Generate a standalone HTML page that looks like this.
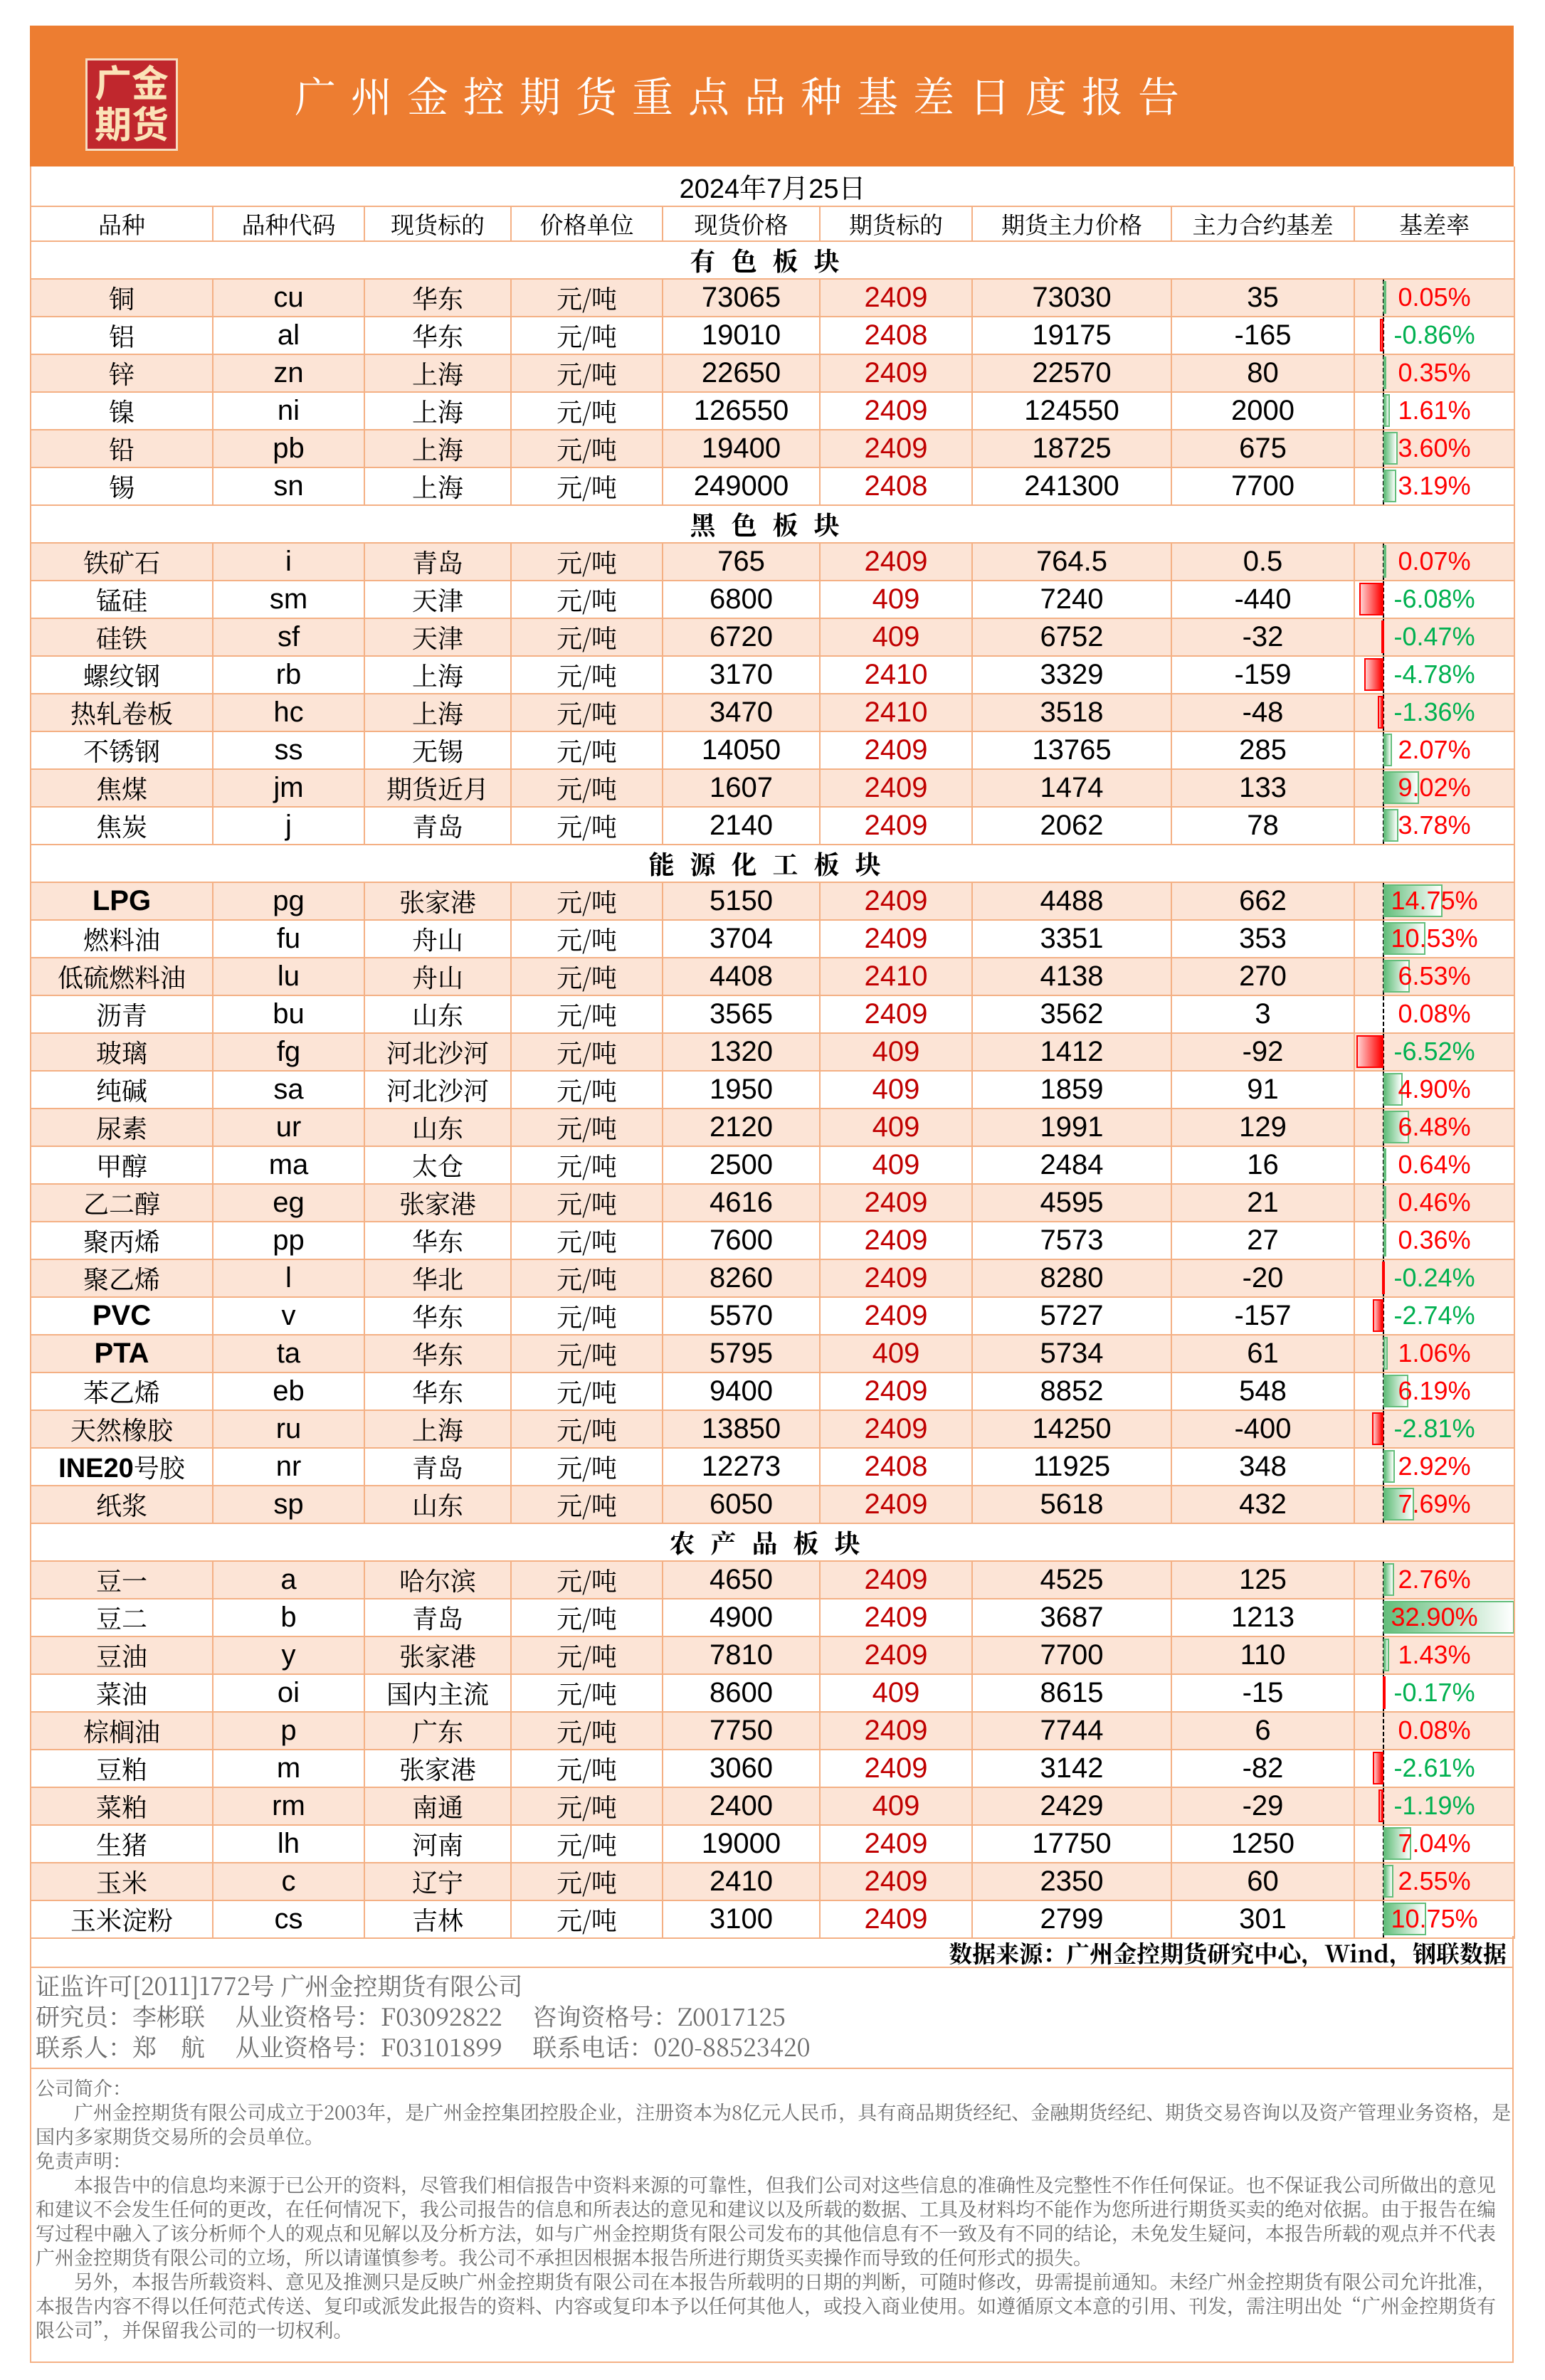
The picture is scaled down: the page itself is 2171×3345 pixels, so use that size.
<!DOCTYPE html>
<html><head><meta charset="utf-8">
<style>
body{margin:0;width:2171px;height:3345px;background:#fff;position:relative;overflow:hidden;font-family:"Liberation Sans","Noto Serif CJK SC",serif;}
#hd{position:absolute;left:42px;top:36px;width:2085px;height:198px;background:#ed7d31;}
#logo{position:absolute;left:78px;top:46px;width:124px;height:124px;background:#c0272d;border:3px solid #f6dcc0;color:#fbe3b8;font:bold 52px/58px "Noto Sans CJK SC",sans-serif;text-align:center;}
#title{position:absolute;left:372px;top:54px;color:#fff;font:58px "Noto Serif CJK SC",serif;letter-spacing:21px;white-space:nowrap;}
table{position:absolute;left:42px;top:234px;border-collapse:collapse;table-layout:fixed;width:2085px;}
td{border:2px solid #f4b084;height:49px;padding:0;text-align:center;font-size:38px;white-space:nowrap;overflow:hidden;}
.c{font-family:"Noto Serif CJK SC",serif;font-size:36px;}
.n{font-family:"Liberation Sans Narrow","Liberation Sans",sans-serif;font-size:40px;}
.r{color:#c00000}
tr.p td{background:#fce4d6}
tr.h td{font-family:"Noto Serif CJK SC",serif;font-size:33px;height:45px}
tr.s td{font-family:"Noto Serif CJK SC",serif;font-size:36px;letter-spacing:22px;font-weight:bold}
td.b{position:relative}
td.b span{position:relative;z-index:2;font-family:"Liberation Sans",sans-serif;font-size:36px}
.ax{position:absolute;left:39px;top:0;bottom:0;border-left:2px dashed #000;z-index:1}
.g{position:absolute;left:40px;top:2px;bottom:3px;background:linear-gradient(to right,#63be7b,#fff);border:2px solid #63be7b;box-sizing:border-box;z-index:1}
.rd{position:absolute;top:2px;bottom:3px;background:linear-gradient(to right,#ffd0d0,#ff0000);border:2px solid #ff0000;box-sizing:border-box;z-index:1}
.pos{color:#ff0000}.neg{color:#00b050}
#foot{position:absolute;left:42px;top:2721px;width:2085px;height:600px;border:2px solid #f4b084;border-top:none;box-sizing:border-box;}
.ln{position:absolute;white-space:nowrap;font-family:"Noto Serif CJK SC",serif;color:#6b6b6b}
</style></head><body>
<div id="hd"><div id="logo">广金<br>期货</div><div id="title">广州金控期货重点品种基差日度报告</div></div>
<table>
<colgroup><col style="width:256px"><col style="width:213px"><col style="width:206px"><col style="width:213px"><col style="width:221px"><col style="width:214px"><col style="width:280px"><col style="width:257px"><col style="width:225px"></colgroup>
<tr><td colspan="9" style="font-size:38px;height:49px;border-top:none">2024年7月25日</td></tr>
<tr class="h"><td>品种</td><td>品种代码</td><td>现货标的</td><td>价格单位</td><td>现货价格</td><td>期货标的</td><td>期货主力价格</td><td>主力合约基差</td><td>基差率</td></tr>
<tr class="s"><td colspan="9">有色板块</td></tr>
<tr class="p"><td class="c">铜</td><td class="n">cu</td><td class="c">华东</td><td class="c">元/吨</td><td class="n">73065</td><td class="n r">2409</td><td class="n">73030</td><td class="n">35</td><td class="b"><i class="ax"></i><i class="g" style="width:1px"></i><span class="pos">0.05%</span></td></tr>
<tr><td class="c">铝</td><td class="n">al</td><td class="c">华东</td><td class="c">元/吨</td><td class="n">19010</td><td class="n r">2408</td><td class="n">19175</td><td class="n">-165</td><td class="b"><i class="ax"></i><i class="rd" style="left:35px;width:5px"></i><span class="neg">-0.86%</span></td></tr>
<tr class="p"><td class="c">锌</td><td class="n">zn</td><td class="c">上海</td><td class="c">元/吨</td><td class="n">22650</td><td class="n r">2409</td><td class="n">22570</td><td class="n">80</td><td class="b"><i class="ax"></i><i class="g" style="width:2px"></i><span class="pos">0.35%</span></td></tr>
<tr><td class="c">镍</td><td class="n">ni</td><td class="c">上海</td><td class="c">元/吨</td><td class="n">126550</td><td class="n r">2409</td><td class="n">124550</td><td class="n">2000</td><td class="b"><i class="ax"></i><i class="g" style="width:9px"></i><span class="pos">1.61%</span></td></tr>
<tr class="p"><td class="c">铅</td><td class="n">pb</td><td class="c">上海</td><td class="c">元/吨</td><td class="n">19400</td><td class="n r">2409</td><td class="n">18725</td><td class="n">675</td><td class="b"><i class="ax"></i><i class="g" style="width:20px"></i><span class="pos">3.60%</span></td></tr>
<tr><td class="c">锡</td><td class="n">sn</td><td class="c">上海</td><td class="c">元/吨</td><td class="n">249000</td><td class="n r">2408</td><td class="n">241300</td><td class="n">7700</td><td class="b"><i class="ax"></i><i class="g" style="width:18px"></i><span class="pos">3.19%</span></td></tr>
<tr class="s"><td colspan="9">黑色板块</td></tr>
<tr class="p"><td class="c">铁矿石</td><td class="n">i</td><td class="c">青岛</td><td class="c">元/吨</td><td class="n">765</td><td class="n r">2409</td><td class="n">764.5</td><td class="n">0.5</td><td class="b"><i class="ax"></i><i class="g" style="width:1px"></i><span class="pos">0.07%</span></td></tr>
<tr><td class="c">锰硅</td><td class="n">sm</td><td class="c">天津</td><td class="c">元/吨</td><td class="n">6800</td><td class="n r">409</td><td class="n">7240</td><td class="n">-440</td><td class="b"><i class="ax"></i><i class="rd" style="left:6px;width:34px"></i><span class="neg">-6.08%</span></td></tr>
<tr class="p"><td class="c">硅铁</td><td class="n">sf</td><td class="c">天津</td><td class="c">元/吨</td><td class="n">6720</td><td class="n r">409</td><td class="n">6752</td><td class="n">-32</td><td class="b"><i class="ax"></i><i class="rd" style="left:37px;width:3px"></i><span class="neg">-0.47%</span></td></tr>
<tr><td class="c">螺纹钢</td><td class="n">rb</td><td class="c">上海</td><td class="c">元/吨</td><td class="n">3170</td><td class="n r">2410</td><td class="n">3329</td><td class="n">-159</td><td class="b"><i class="ax"></i><i class="rd" style="left:13px;width:27px"></i><span class="neg">-4.78%</span></td></tr>
<tr class="p"><td class="c">热轧卷板</td><td class="n">hc</td><td class="c">上海</td><td class="c">元/吨</td><td class="n">3470</td><td class="n r">2410</td><td class="n">3518</td><td class="n">-48</td><td class="b"><i class="ax"></i><i class="rd" style="left:32px;width:8px"></i><span class="neg">-1.36%</span></td></tr>
<tr><td class="c">不锈钢</td><td class="n">ss</td><td class="c">无锡</td><td class="c">元/吨</td><td class="n">14050</td><td class="n r">2409</td><td class="n">13765</td><td class="n">285</td><td class="b"><i class="ax"></i><i class="g" style="width:12px"></i><span class="pos">2.07%</span></td></tr>
<tr class="p"><td class="c">焦煤</td><td class="n">jm</td><td class="c">期货近月</td><td class="c">元/吨</td><td class="n">1607</td><td class="n r">2409</td><td class="n">1474</td><td class="n">133</td><td class="b"><i class="ax"></i><i class="g" style="width:50px"></i><span class="pos">9.02%</span></td></tr>
<tr><td class="c">焦炭</td><td class="n">j</td><td class="c">青岛</td><td class="c">元/吨</td><td class="n">2140</td><td class="n r">2409</td><td class="n">2062</td><td class="n">78</td><td class="b"><i class="ax"></i><i class="g" style="width:21px"></i><span class="pos">3.78%</span></td></tr>
<tr class="s"><td colspan="9">能源化工板块</td></tr>
<tr class="p"><td class="n" style="font-weight:bold">LPG</td><td class="n">pg</td><td class="c">张家港</td><td class="c">元/吨</td><td class="n">5150</td><td class="n r">2409</td><td class="n">4488</td><td class="n">662</td><td class="b"><i class="ax"></i><i class="g" style="width:83px"></i><span class="pos">14.75%</span></td></tr>
<tr><td class="c">燃料油</td><td class="n">fu</td><td class="c">舟山</td><td class="c">元/吨</td><td class="n">3704</td><td class="n r">2409</td><td class="n">3351</td><td class="n">353</td><td class="b"><i class="ax"></i><i class="g" style="width:59px"></i><span class="pos">10.53%</span></td></tr>
<tr class="p"><td class="c">低硫燃料油</td><td class="n">lu</td><td class="c">舟山</td><td class="c">元/吨</td><td class="n">4408</td><td class="n r">2410</td><td class="n">4138</td><td class="n">270</td><td class="b"><i class="ax"></i><i class="g" style="width:37px"></i><span class="pos">6.53%</span></td></tr>
<tr><td class="c">沥青</td><td class="n">bu</td><td class="c">山东</td><td class="c">元/吨</td><td class="n">3565</td><td class="n r">2409</td><td class="n">3562</td><td class="n">3</td><td class="b"><i class="ax"></i><span class="pos">0.08%</span></td></tr>
<tr class="p"><td class="c">玻璃</td><td class="n">fg</td><td class="c">河北沙河</td><td class="c">元/吨</td><td class="n">1320</td><td class="n r">409</td><td class="n">1412</td><td class="n">-92</td><td class="b"><i class="ax"></i><i class="rd" style="left:2px;width:38px"></i><span class="neg">-6.52%</span></td></tr>
<tr><td class="c">纯碱</td><td class="n">sa</td><td class="c">河北沙河</td><td class="c">元/吨</td><td class="n">1950</td><td class="n r">409</td><td class="n">1859</td><td class="n">91</td><td class="b"><i class="ax"></i><i class="g" style="width:27px"></i><span class="pos">4.90%</span></td></tr>
<tr class="p"><td class="c">尿素</td><td class="n">ur</td><td class="c">山东</td><td class="c">元/吨</td><td class="n">2120</td><td class="n r">409</td><td class="n">1991</td><td class="n">129</td><td class="b"><i class="ax"></i><i class="g" style="width:36px"></i><span class="pos">6.48%</span></td></tr>
<tr><td class="c">甲醇</td><td class="n">ma</td><td class="c">太仓</td><td class="c">元/吨</td><td class="n">2500</td><td class="n r">409</td><td class="n">2484</td><td class="n">16</td><td class="b"><i class="ax"></i><i class="g" style="width:4px"></i><span class="pos">0.64%</span></td></tr>
<tr class="p"><td class="c">乙二醇</td><td class="n">eg</td><td class="c">张家港</td><td class="c">元/吨</td><td class="n">4616</td><td class="n r">2409</td><td class="n">4595</td><td class="n">21</td><td class="b"><i class="ax"></i><i class="g" style="width:3px"></i><span class="pos">0.46%</span></td></tr>
<tr><td class="c">聚丙烯</td><td class="n">pp</td><td class="c">华东</td><td class="c">元/吨</td><td class="n">7600</td><td class="n r">2409</td><td class="n">7573</td><td class="n">27</td><td class="b"><i class="ax"></i><i class="g" style="width:2px"></i><span class="pos">0.36%</span></td></tr>
<tr class="p"><td class="c">聚乙烯</td><td class="n">l</td><td class="c">华北</td><td class="c">元/吨</td><td class="n">8260</td><td class="n r">2409</td><td class="n">8280</td><td class="n">-20</td><td class="b"><i class="ax"></i><i class="rd" style="left:38px;width:2px"></i><span class="neg">-0.24%</span></td></tr>
<tr><td class="n" style="font-weight:bold">PVC</td><td class="n">v</td><td class="c">华东</td><td class="c">元/吨</td><td class="n">5570</td><td class="n r">2409</td><td class="n">5727</td><td class="n">-157</td><td class="b"><i class="ax"></i><i class="rd" style="left:25px;width:15px"></i><span class="neg">-2.74%</span></td></tr>
<tr class="p"><td class="n" style="font-weight:bold">PTA</td><td class="n">ta</td><td class="c">华东</td><td class="c">元/吨</td><td class="n">5795</td><td class="n r">409</td><td class="n">5734</td><td class="n">61</td><td class="b"><i class="ax"></i><i class="g" style="width:6px"></i><span class="pos">1.06%</span></td></tr>
<tr><td class="c">苯乙烯</td><td class="n">eb</td><td class="c">华东</td><td class="c">元/吨</td><td class="n">9400</td><td class="n r">2409</td><td class="n">8852</td><td class="n">548</td><td class="b"><i class="ax"></i><i class="g" style="width:35px"></i><span class="pos">6.19%</span></td></tr>
<tr class="p"><td class="c">天然橡胶</td><td class="n">ru</td><td class="c">上海</td><td class="c">元/吨</td><td class="n">13850</td><td class="n r">2409</td><td class="n">14250</td><td class="n">-400</td><td class="b"><i class="ax"></i><i class="rd" style="left:24px;width:16px"></i><span class="neg">-2.81%</span></td></tr>
<tr><td class="c"><b class="n" style="font-size:38px">INE20</b>号胶</td><td class="n">nr</td><td class="c">青岛</td><td class="c">元/吨</td><td class="n">12273</td><td class="n r">2408</td><td class="n">11925</td><td class="n">348</td><td class="b"><i class="ax"></i><i class="g" style="width:16px"></i><span class="pos">2.92%</span></td></tr>
<tr class="p"><td class="c">纸浆</td><td class="n">sp</td><td class="c">山东</td><td class="c">元/吨</td><td class="n">6050</td><td class="n r">2409</td><td class="n">5618</td><td class="n">432</td><td class="b"><i class="ax"></i><i class="g" style="width:43px"></i><span class="pos">7.69%</span></td></tr>
<tr class="s"><td colspan="9">农产品板块</td></tr>
<tr class="p"><td class="c">豆一</td><td class="n">a</td><td class="c">哈尔滨</td><td class="c">元/吨</td><td class="n">4650</td><td class="n r">2409</td><td class="n">4525</td><td class="n">125</td><td class="b"><i class="ax"></i><i class="g" style="width:15px"></i><span class="pos">2.76%</span></td></tr>
<tr><td class="c">豆二</td><td class="n">b</td><td class="c">青岛</td><td class="c">元/吨</td><td class="n">4900</td><td class="n r">2409</td><td class="n">3687</td><td class="n">1213</td><td class="b"><i class="ax"></i><i class="g" style="width:184px"></i><span class="pos">32.90%</span></td></tr>
<tr class="p"><td class="c">豆油</td><td class="n">y</td><td class="c">张家港</td><td class="c">元/吨</td><td class="n">7810</td><td class="n r">2409</td><td class="n">7700</td><td class="n">110</td><td class="b"><i class="ax"></i><i class="g" style="width:8px"></i><span class="pos">1.43%</span></td></tr>
<tr><td class="c">菜油</td><td class="n">oi</td><td class="c">国内主流</td><td class="c">元/吨</td><td class="n">8600</td><td class="n r">409</td><td class="n">8615</td><td class="n">-15</td><td class="b"><i class="ax"></i><i class="rd" style="left:39px;width:1px"></i><span class="neg">-0.17%</span></td></tr>
<tr class="p"><td class="c">棕榈油</td><td class="n">p</td><td class="c">广东</td><td class="c">元/吨</td><td class="n">7750</td><td class="n r">2409</td><td class="n">7744</td><td class="n">6</td><td class="b"><i class="ax"></i><span class="pos">0.08%</span></td></tr>
<tr><td class="c">豆粕</td><td class="n">m</td><td class="c">张家港</td><td class="c">元/吨</td><td class="n">3060</td><td class="n r">2409</td><td class="n">3142</td><td class="n">-82</td><td class="b"><i class="ax"></i><i class="rd" style="left:25px;width:15px"></i><span class="neg">-2.61%</span></td></tr>
<tr class="p"><td class="c">菜粕</td><td class="n">rm</td><td class="c">南通</td><td class="c">元/吨</td><td class="n">2400</td><td class="n r">409</td><td class="n">2429</td><td class="n">-29</td><td class="b"><i class="ax"></i><i class="rd" style="left:33px;width:7px"></i><span class="neg">-1.19%</span></td></tr>
<tr><td class="c">生猪</td><td class="n">lh</td><td class="c">河南</td><td class="c">元/吨</td><td class="n">19000</td><td class="n r">2409</td><td class="n">17750</td><td class="n">1250</td><td class="b"><i class="ax"></i><i class="g" style="width:39px"></i><span class="pos">7.04%</span></td></tr>
<tr class="p"><td class="c">玉米</td><td class="n">c</td><td class="c">辽宁</td><td class="c">元/吨</td><td class="n">2410</td><td class="n r">2409</td><td class="n">2350</td><td class="n">60</td><td class="b"><i class="ax"></i><i class="g" style="width:14px"></i><span class="pos">2.55%</span></td></tr>
<tr><td class="c">玉米淀粉</td><td class="n">cs</td><td class="c">吉林</td><td class="c">元/吨</td><td class="n">3100</td><td class="n r">2409</td><td class="n">2799</td><td class="n">301</td><td class="b"><i class="ax"></i><i class="g" style="width:60px"></i><span class="pos">10.75%</span></td></tr>
</table>
<div id="foot">
<div class="ln" style="right:8px;top:0px;color:#000;font-size:33px;font-weight:bold">数据来源：广州金控期货研究中心，Wind，钢联数据</div>
<div style="position:absolute;left:0;right:0;top:43px;border-top:2px solid #f4b084"></div>
<div class="ln" style="left:6px;top:44px;font-size:34px">证监许可[2011]1772号 广州金控期货有限公司</div>
<div class="ln" style="left:6px;top:87px;font-size:34px">研究员：李彬联　 从业资格号：F03092822　 咨询资格号：Z0017125</div>
<div class="ln" style="left:6px;top:130px;font-size:34px">联系人：郑　航　 从业资格号：F03101899　 联系电话：020-88523420</div>
<div style="position:absolute;left:0;right:0;top:185px;border-top:2px solid #f4b084"></div>
<div class="ln" style="left:6px;top:196px;font-size:27px;line-height:34px;white-space:pre">公司简介：
　　广州金控期货有限公司成立于2003年，是广州金控集团控股企业，注册资本为8亿元人民币，具有商品期货经纪、金融期货经纪、期货交易咨询以及资产管理业务资格，是
国内多家期货交易所的会员单位。
免责声明：
　　本报告中的信息均来源于已公开的资料，尽管我们相信报告中资料来源的可靠性，但我们公司对这些信息的准确性及完整性不作任何保证。也不保证我公司所做出的意见
和建议不会发生任何的更改，在任何情况下，我公司报告的信息和所表达的意见和建议以及所载的数据、工具及材料均不能作为您所进行期货买卖的绝对依据。由于报告在编
写过程中融入了该分析师个人的观点和见解以及分析方法，如与广州金控期货有限公司发布的其他信息有不一致及有不同的结论，未免发生疑问，本报告所载的观点并不代表
广州金控期货有限公司的立场，所以请谨慎参考。我公司不承担因根据本报告所进行期货买卖操作而导致的任何形式的损失。
　　另外，本报告所载资料、意见及推测只是反映广州金控期货有限公司在本报告所载明的日期的判断，可随时修改，毋需提前通知。未经广州金控期货有限公司允许批准，
本报告内容不得以任何范式传送、复印或派发此报告的资料、内容或复印本予以任何其他人，或投入商业使用。如遵循原文本意的引用、刊发，需注明出处“广州金控期货有
限公司”，并保留我公司的一切权利。</div>
</div>
</body></html>
